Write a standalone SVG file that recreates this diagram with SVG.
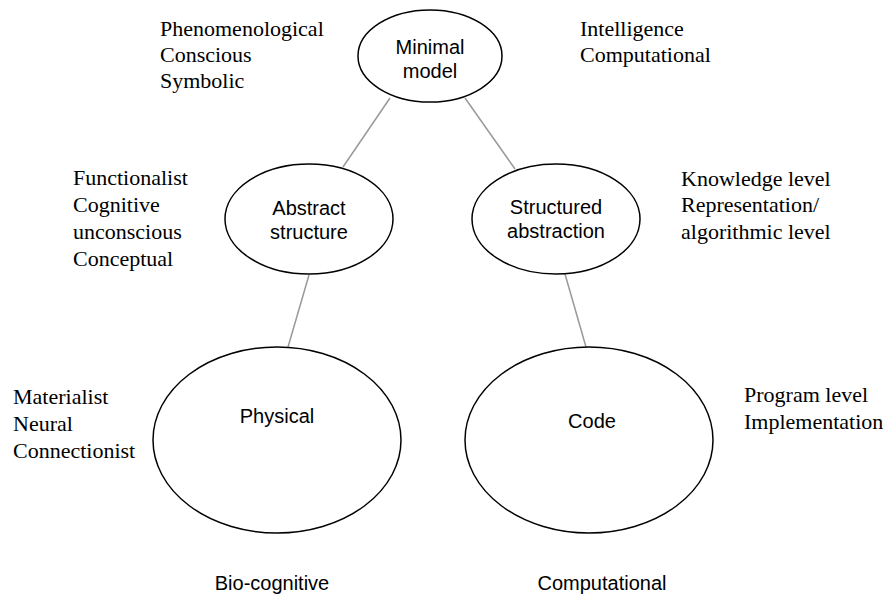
<svg xmlns="http://www.w3.org/2000/svg" width="893" height="597" viewBox="0 0 893 597">
<style>
.node ellipse{fill:#fff;stroke:#000;stroke-width:1.5}
.lbl{font-family:"Liberation Sans",Arial,sans-serif;font-size:20px;fill:#000;text-anchor:middle}
.note{font-family:"Liberation Serif","Times New Roman",serif;font-size:22px;fill:#000}
.conn line{stroke:#999;stroke-width:1.5}
</style>
<rect width="893" height="597" fill="#fff"/>
<g id="connectors" class="conn">
<line x1="390" y1="98" x2="343" y2="167"/>
<line x1="465" y1="98" x2="515" y2="169"/>
<line x1="309" y1="275" x2="288" y2="347"/>
<line x1="565" y1="274" x2="586" y2="347"/>
</g>
<g id="minimal" class="node">
<ellipse cx="430" cy="56" rx="72" ry="46"/>
<text class="lbl" x="430" y="54">Minimal</text>
<text class="lbl" x="430" y="78">model</text>
</g>
<g id="abstract" class="node">
<ellipse cx="309" cy="219" rx="84" ry="55"/>
<text class="lbl" x="309" y="215">Abstract</text>
<text class="lbl" x="309" y="239">structure</text>
</g>
<g id="structured" class="node">
<ellipse cx="556" cy="219" rx="84" ry="55"/>
<text class="lbl" x="556" y="214">Structured</text>
<text class="lbl" x="556" y="238">abstraction</text>
</g>
<g id="physical" class="node">
<ellipse cx="277" cy="440" rx="124" ry="93"/>
<text class="lbl" x="277" y="423">Physical</text>
</g>
<g id="code" class="node">
<ellipse cx="589" cy="440" rx="124" ry="93"/>
<text class="lbl" x="592" y="428">Code</text>
</g>
<g id="notes">
<text class="note" x="160" y="36">Phenomenological</text>
<text class="note" x="160" y="62">Conscious</text>
<text class="note" x="160" y="88">Symbolic</text>
<text class="note" x="580" y="36">Intelligence</text>
<text class="note" x="580" y="62">Computational</text>
<text class="note" x="73" y="185">Functionalist</text>
<text class="note" x="73" y="212">Cognitive</text>
<text class="note" x="73" y="239">unconscious</text>
<text class="note" x="73" y="266">Conceptual</text>
<text class="note" x="681" y="186">Knowledge level</text>
<text class="note" x="681" y="212">Representation/</text>
<text class="note" x="681" y="239">algorithmic level</text>
<text class="note" x="13" y="404">Materialist</text>
<text class="note" x="13" y="431">Neural</text>
<text class="note" x="13" y="458">Connectionist</text>
<text class="note" x="744" y="402">Program level</text>
<text class="note" x="744" y="429">Implementation</text>
<text class="lbl" x="272" y="590">Bio-cognitive</text>
<text class="lbl" x="602" y="590">Computational</text>
</g>
</svg>
